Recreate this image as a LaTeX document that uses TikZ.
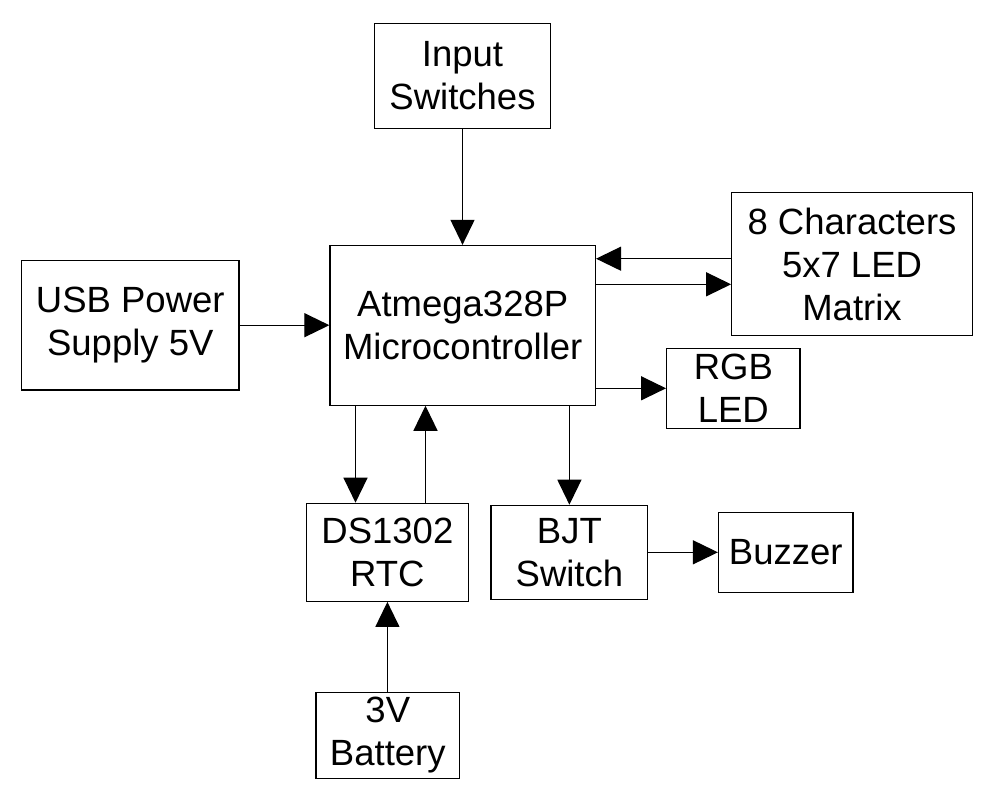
\documentclass[tikz,border=0pt]{standalone}
\usepackage{fontspec}
\setmainfont{Liberation Sans}
\usetikzlibrary{arrows.meta}
\begin{document}
\begin{tikzpicture}[x=1pt,y=-1pt,
  blk/.style={draw,line width=1.2pt,inner sep=0pt,align=center,
    font=\fontsize{36.5}{43}\selectfont},
  arr/.style={line width=1.2pt,-{Triangle[length=25pt,width=24pt]}}]
\useasboundingbox (0,0) rectangle (992,806);
\node[blk,minimum width=175.5pt,minimum height=105pt] (in) at (462.5,75.8) {Input\\Switches};
\node[blk,minimum width=217.5pt,minimum height=129.7pt] (usb) at (130.3,325.2) {USB Power\\Supply 5V};
\node[blk,minimum width=265.5pt,minimum height=159.7pt] (mcu) at (462.7,325.3) {Atmega328P\\Microcontroller};
\node[blk,minimum width=240.6pt,minimum height=143.4pt] (mat) at (852,264) {8 Characters\\5x7 LED\\Matrix};
\node[blk,minimum width=133.3pt,minimum height=80pt] (rgb) at (733.3,388.3) {RGB\\LED};
\node[blk,minimum width=162.2pt,minimum height=98pt] (rtc) at (387.4,552.3) {DS1302\\RTC};
\node[blk,minimum width=156.8pt,minimum height=94pt] (bjt) at (569.4,552.3) {BJT\\Switch};
\node[blk,minimum width=134.4pt,minimum height=80pt] (buz) at (785.7,552.3) {Buzzer};
\node[blk,minimum width=143.6pt,minimum height=86pt] (bat) at (387.8,735.3) {3V\\Battery};
\coordinate (ya) at (0,258.7);
\coordinate (yb) at (0,284.3);
\coordinate (xa) at (355.5,0);
\coordinate (xb) at (425.5,0);
\draw[arr] (in.south) -- (in.south |- mcu.north);
\draw[arr] (mat.west |- ya) -- (mcu.east |- ya);
\draw[arr] (mcu.east |- yb) -- (mat.west |- yb);
\draw[arr] (usb.east) -- (mcu.west |- usb.east);
\draw[arr] (mcu.east |- rgb.west) -- (rgb.west);
\draw[arr] (xa |- mcu.south) -- (xa |- rtc.north);
\draw[arr] (xb |- rtc.north) -- (xb |- mcu.south);
\draw[arr] (mcu.south -| bjt.north) -- (bjt.north);
\draw[arr] (bjt.east) -- (buz.west |- bjt.east);
\draw[arr] (bat.north -| rtc.south) -- (rtc.south);
\end{tikzpicture}
\end{document}
